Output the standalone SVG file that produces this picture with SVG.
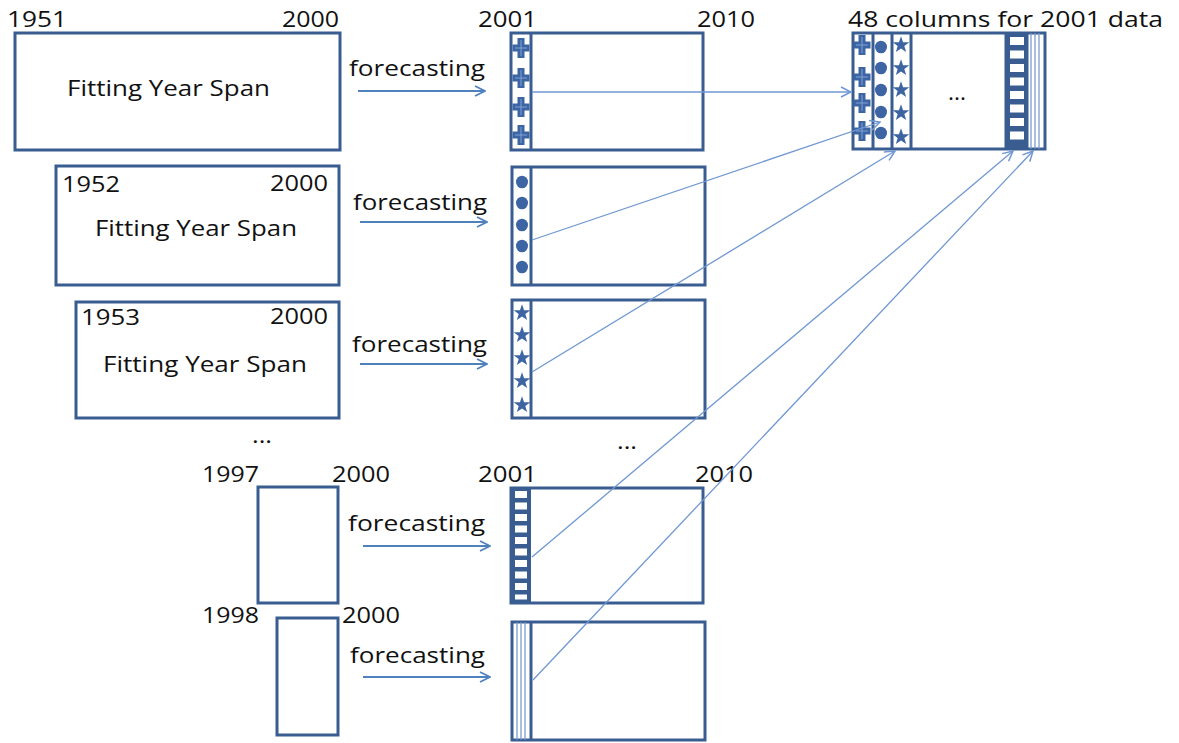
<svg xmlns="http://www.w3.org/2000/svg" xmlns:xlink="http://www.w3.org/1999/xlink" width="1179" height="743" viewBox="0 0 1179 743">
<style>
.box{fill:#fff;stroke:#3a5d91;stroke-width:3}
.line{stroke:#3a5d91;stroke-width:3;fill:none}
.thin{stroke:#6f95cc;stroke-width:1.2;fill:none}
.sym{fill:#3d65a3}
.t{font-family:"Open Sans","Liberation Sans",sans-serif;font-size:21px;fill:#111}
.f{font-family:"Open Sans","Liberation Sans",sans-serif;font-size:21px;fill:#111}
.fc{stroke:#4f81bd;stroke-width:2;fill:none;marker-end:url(#ah)}
.cn{stroke:#6f97d2;stroke-width:1.3;fill:none;marker-end:url(#ah2)}
</style>
<defs>
<marker id="ah" viewBox="0 0 12 12" refX="11" refY="6" markerWidth="12" markerHeight="12" markerUnits="userSpaceOnUse" orient="auto"><path d="M1,1 L11,6 L1,11" fill="none" stroke="#4f81bd" stroke-width="1.8"/></marker>
<marker id="ah2" viewBox="0 0 12 12" refX="11" refY="6" markerWidth="12" markerHeight="12" markerUnits="userSpaceOnUse" orient="auto"><path d="M1,1 L11,6 L1,11" fill="none" stroke="#6f97d2" stroke-width="1.5"/></marker>
<g id="plus"><path class="sym" d="M-3.5,-10 H3.5 V-3.5 H8.5 V3.5 H3.5 V10 H-3.5 V3.5 H-8.5 V-3.5 H-3.5 Z"/><path d="M0,-8 V8 M-6,0 H6" stroke="#7fa3d6" stroke-width="1"/></g>
<ellipse id="dot" class="sym" cx="0" cy="0" rx="6" ry="6.3"/>
<path id="star" class="sym" transform="scale(1.25)" d="M0,-7 L1.65,-2.27 6.66,-2.16 2.66,0.87 4.11,5.66 0,2.8 -4.11,5.66 -2.66,0.87 -6.66,-2.16 -1.65,-2.27 Z"/>
</defs>
<rect width="1179" height="743" fill="#fff"/>

<g id="fit1">
<rect class="box" x="15" y="33" width="325" height="117"/>
<text class="t" x="7" y="27" textLength="60" lengthAdjust="spacingAndGlyphs">1951</text>
<text class="t" x="282" y="27" textLength="57" lengthAdjust="spacingAndGlyphs">2000</text>
<text class="t" x="67" y="96" textLength="203" lengthAdjust="spacingAndGlyphs">Fitting Year Span</text>
</g>
<g id="fit2">
<rect class="box" x="56" y="166" width="283" height="119"/>
<text class="t" x="62" y="192" textLength="58" lengthAdjust="spacingAndGlyphs">1952</text>
<text class="t" x="270" y="191" textLength="58" lengthAdjust="spacingAndGlyphs">2000</text>
<text class="t" x="95" y="236" textLength="202" lengthAdjust="spacingAndGlyphs">Fitting Year Span</text>
</g>
<g id="fit3">
<rect class="box" x="76" y="302" width="263" height="116"/>
<text class="t" x="81" y="325" textLength="59" lengthAdjust="spacingAndGlyphs">1953</text>
<text class="t" x="270" y="324" textLength="58" lengthAdjust="spacingAndGlyphs">2000</text>
<text class="t" x="103" y="372" textLength="204" lengthAdjust="spacingAndGlyphs">Fitting Year Span</text>
</g>
<text class="t" x="252" y="443" textLength="20" lengthAdjust="spacingAndGlyphs">...</text>
<g id="fit4">
<rect class="box" x="258" y="487" width="80" height="116"/>
<text class="t" x="202" y="482" textLength="57" lengthAdjust="spacingAndGlyphs">1997</text>
<text class="t" x="332" y="482" textLength="58" lengthAdjust="spacingAndGlyphs">2000</text>
</g>
<g id="fit5">
<rect class="box" x="277" y="618" width="61" height="117"/>
<text class="t" x="202" y="623" textLength="57" lengthAdjust="spacingAndGlyphs">1998</text>
<text class="t" x="342" y="623" textLength="58" lengthAdjust="spacingAndGlyphs">2000</text>
</g>

<g id="fc-labels">
<text class="f" x="349" y="76" textLength="136" lengthAdjust="spacingAndGlyphs">forecasting</text>
<text class="f" x="353" y="210" textLength="134" lengthAdjust="spacingAndGlyphs">forecasting</text>
<text class="f" x="352" y="352" textLength="135" lengthAdjust="spacingAndGlyphs">forecasting</text>
<text class="f" x="348" y="531" textLength="137" lengthAdjust="spacingAndGlyphs">forecasting</text>
<text class="f" x="350" y="663" textLength="135" lengthAdjust="spacingAndGlyphs">forecasting</text>
</g>

<g id="fcA">
<rect class="box" x="511" y="33" width="192" height="117"/>
<line class="line" x1="531" y1="33" x2="531" y2="150"/>
<use href="#plus" x="521" y="48"/><use href="#plus" x="521" y="78"/><use href="#plus" x="521" y="107"/><use href="#plus" x="521" y="135"/>
<text class="t" x="478" y="27" textLength="59" lengthAdjust="spacingAndGlyphs">2001</text>
<text class="t" x="697" y="27" textLength="58" lengthAdjust="spacingAndGlyphs">2010</text>
</g>
<g id="fcB">
<rect class="box" x="512" y="167" width="193" height="118"/>
<line class="line" x1="531" y1="167" x2="531" y2="285"/>
<use href="#dot" x="522" y="182"/><use href="#dot" x="522" y="203"/><use href="#dot" x="522" y="225"/><use href="#dot" x="522" y="246"/><use href="#dot" x="522" y="267"/>
</g>
<g id="fcC">
<rect class="box" x="512" y="300" width="193" height="118"/>
<line class="line" x1="531" y1="300" x2="531" y2="418"/>
<use href="#star" x="522" y="313"/><use href="#star" x="522" y="335"/><use href="#star" x="522" y="358"/><use href="#star" x="522" y="381"/><use href="#star" x="522" y="405"/>
</g>
<text class="t" x="617" y="449" textLength="20" lengthAdjust="spacingAndGlyphs">...</text>
<g id="fcD">
<rect class="box" x="511" y="488" width="192" height="115"/>
<rect x="511" y="488" width="20" height="115" fill="#3a5d91"/>
<g fill="#fff">
<rect x="515" y="491" width="12" height="7"/><rect x="515" y="502.5" width="12" height="7"/><rect x="515" y="514" width="12" height="7"/><rect x="515" y="525.5" width="12" height="7"/><rect x="515" y="537" width="12" height="7"/><rect x="515" y="548.5" width="12" height="7"/><rect x="515" y="560" width="12" height="7"/><rect x="515" y="571.5" width="12" height="7"/><rect x="515" y="583" width="12" height="7"/><rect x="515" y="594.5" width="12" height="5"/>
</g>
<text class="t" x="478" y="482" textLength="59" lengthAdjust="spacingAndGlyphs">2001</text>
<text class="t" x="695" y="482" textLength="58" lengthAdjust="spacingAndGlyphs">2010</text>
</g>
<g id="fcE">
<rect class="box" x="512" y="622" width="193" height="118"/>
<line class="line" x1="531" y1="622" x2="531" y2="740"/>
<path class="thin" d="M517,622 V740 M521,622 V740 M525,622 V740"/>
</g>

<g id="matrix">
<rect class="box" x="853" y="33" width="192" height="116"/>
<path class="line" d="M873,33 V149 M892,33 V149 M911,33 V149 M1006,33 V149 M1027,33 V149"/>
<rect x="1006" y="33" width="21" height="116" fill="#3a5d91"/>
<g fill="#fff">
<rect x="1010" y="37" width="14" height="8"/><rect x="1010" y="50.5" width="14" height="8"/><rect x="1010" y="64" width="14" height="8"/><rect x="1010" y="77.5" width="14" height="8"/><rect x="1010" y="91" width="14" height="8"/><rect x="1010" y="104.5" width="14" height="8"/><rect x="1010" y="118" width="14" height="8"/><rect x="1010" y="131.5" width="14" height="8"/>
</g>
<path class="thin" d="M1031,33 V149 M1035,33 V149 M1039,33 V149"/>
<use href="#plus" x="862" y="45"/><use href="#plus" x="862" y="77"/><use href="#plus" x="862" y="103"/><use href="#plus" x="862" y="131"/>
<use href="#dot" x="881" y="47"/><use href="#dot" x="881" y="68"/><use href="#dot" x="881" y="90"/><use href="#dot" x="881" y="112"/><use href="#dot" x="881" y="133"/>
<use href="#star" x="901" y="45"/><use href="#star" x="901" y="68"/><use href="#star" x="901" y="90"/><use href="#star" x="901" y="113"/><use href="#star" x="901" y="137"/>
<text class="t" x="948" y="100" textLength="18" lengthAdjust="spacingAndGlyphs">...</text>
<text class="t" x="848" y="27" textLength="315" lengthAdjust="spacingAndGlyphs">48 columns for 2001 data</text>
</g>

<g id="connectors">
<line class="fc" x1="358" y1="91" x2="485" y2="91"/>
<line class="fc" x1="360" y1="222" x2="487" y2="222"/>
<line class="fc" x1="360" y1="364" x2="487" y2="364"/>
<line class="fc" x1="363" y1="546" x2="490" y2="546"/>
<line class="fc" x1="363" y1="677" x2="490" y2="677"/>
<line class="cn" x1="532" y1="92" x2="851" y2="92"/>
<line class="cn" x1="532" y1="240" x2="880" y2="122"/>
<line class="cn" x1="532" y1="372" x2="895" y2="151"/>
<line class="cn" x1="532" y1="557" x2="1013" y2="151"/>
<line class="cn" x1="533" y1="680" x2="1033" y2="151"/>
</g>
</svg>
